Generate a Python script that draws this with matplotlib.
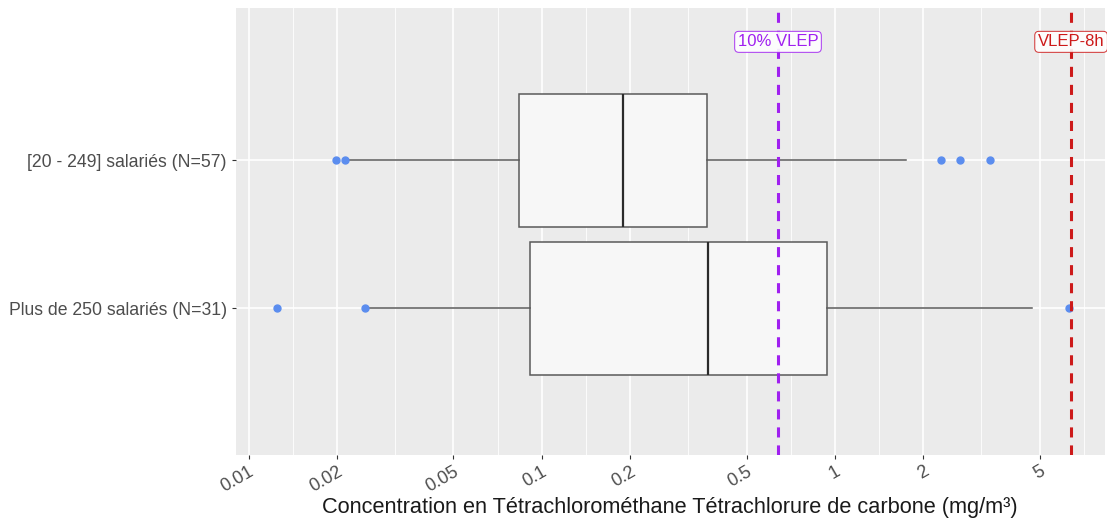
import numpy as np
import matplotlib
matplotlib.use("Agg")
import matplotlib.pyplot as plt
import matplotlib.transforms as mtransforms

plt.rcParams["font.family"] = ["Liberation Sans", "DejaVu Sans"]

# groups, bottom to top
groups = ["Plus de 250 salariés (N=31)", "[20 - 249] salariés (N=57)"]

# box statistics in mg/m3 (whisker low, q1, median, q3, whisker high)
whislo = [0.025, 0.0214]
q1 = [0.091, 0.0835]
med = [0.369, 0.189]
q3 = [0.94, 0.366]
whishi = [4.7, 1.75]
outliers = [[0.0125, 0.025, 6.3], [0.0198, 0.0214, 2.3, 2.67, 3.38]]

# exposure limits
vlep_8h = 6.4
vlep_10pct = 0.64

x_ticks = [0.01, 0.02, 0.05, 0.1, 0.2, 0.5, 1, 2, 5]
x_tick_labels = ["0.01", "0.02", "0.05", "0.1", "0.2", "0.5", "1", "2", "5"]

fig = plt.figure(figsize=(11.07, 5.24), dpi=100)
ax = fig.add_axes([0.213, 0.132, 0.785, 0.853])
ax.set_facecolor("#EBEBEB")
for s in ax.spines.values():
    s.set_visible(False)

ax.set_xscale("log")
ax.set_xlim(0.00904, 8.34)
ax.set_ylim(-0.99, 2.03)

# ggplot-style grid: majors at ticks, minors at log midpoints
minor = [np.sqrt(a * b) for a, b in zip(x_ticks, x_ticks[1:] + [10])]
for m in minor:
    ax.axvline(m, color="white", lw=0.6, zorder=0)
for t in x_ticks:
    ax.axvline(t, color="white", lw=1.2, zorder=0)
for y in range(len(groups)):
    ax.axhline(y, color="white", lw=1.2, zorder=0)

stats = []
for i in range(len(groups)):
    stats.append(dict(whislo=whislo[i], q1=q1[i], med=med[i], q3=q3[i],
                      whishi=whishi[i], fliers=outliers[i]))

ax.bxp(stats, positions=range(len(groups)), vert=False, widths=0.9,
       patch_artist=True, showcaps=False,
       boxprops=dict(facecolor="#F7F7F7", edgecolor="#5A5A5A", lw=1.1),
       medianprops=dict(color="#2B2B2B", lw=1.6),
       whiskerprops=dict(color="#5A5A5A", lw=1.1),
       flierprops=dict(marker="o", markerfacecolor="#5B8DEF",
                       markeredgecolor="#5B8DEF", markersize=5),
       zorder=2)

# limit lines with their labels
trans = mtransforms.blended_transform_factory(ax.transData, ax.transAxes)
for val, col, txt in [(vlep_10pct, "#A020F0", "10% VLEP"),
                      (vlep_8h, "#CD1A1A", "VLEP-8h")]:
    ax.axvline(val, color=col, lw=2.2, dashes=(3.3, 2.6), zorder=3)
    ax.text(val, 0.924, txt, transform=trans, ha="center", va="center",
            fontsize=12, color=col, zorder=4,
            bbox=dict(boxstyle="round,pad=0.18,rounding_size=0.25",
                      facecolor="white", edgecolor=col, lw=0.7, alpha=0.9))

ax.set_xticks(x_ticks)
ax.set_xticklabels(x_tick_labels, rotation=30, ha="right",
                   rotation_mode="anchor", fontsize=13, color="#4D4D4D")
ax.minorticks_off()
ax.set_yticks(range(len(groups)))
ax.set_yticklabels(groups, fontsize=12.7, color="#4D4D4D")
ax.tick_params(axis="both", length=3, color="#333333", width=0.8)
ax.tick_params(axis="x", pad=3)

ax.set_xlabel("Concentration en Tétrachlorométhane Tétrachlorure de carbone (mg/m³)",
              fontsize=15.7, color="#1A1A1A", labelpad=1)

fig.savefig("out.png", dpi=100)
